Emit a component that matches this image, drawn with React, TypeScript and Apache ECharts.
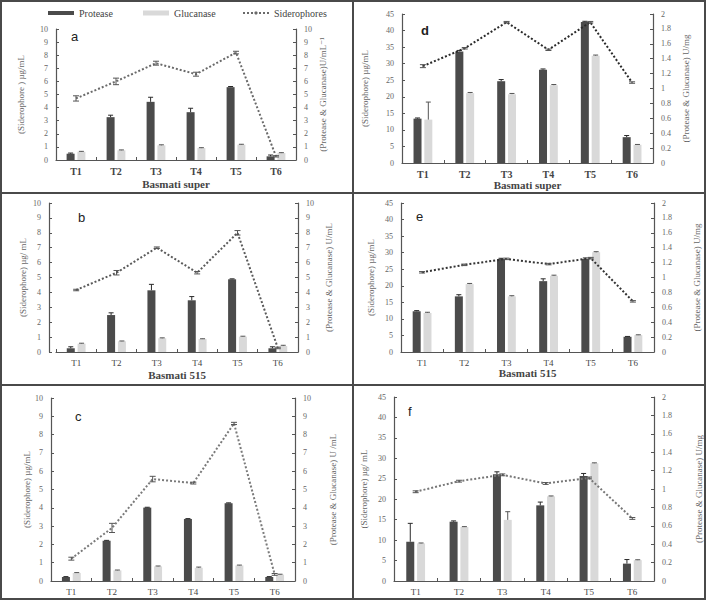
import React, { useEffect, useRef } from 'react';
import * as echarts from 'echarts';

const categories = ['T1', 'T2', 'T3', 'T4', 'T5', 'T6'];

// Panel a (Basmati super, U/mL)
const aProtease = [0.48, 3.27, 4.44, 3.65, 5.56, 0.28];
const aProteaseErr = [0.05, 0.15, 0.35, 0.3, 0.05, 0.1];
const aGlucanase = [0.63, 0.74, 1.12, 0.91, 1.17, 0.53];
const aGlucanaseErr = [0.03, 0.03, 0.04, 0.03, 0.03, 0.03];
const aSiderophores = [4.7, 6.0, 7.39, 6.55, 8.2, 0.28];
const aSiderophoresErr = [0.2, 0.25, 0.15, 0.15, 0.1, 0.05];

// Panel b (Basmati 515, U/mL)
const bProtease = [0.25, 2.48, 4.14, 3.47, 4.88, 0.25];
const bProteaseErr = [0.1, 0.15, 0.4, 0.25, 0.03, 0.1];
const bGlucanase = [0.56, 0.72, 0.92, 0.87, 1.03, 0.4];
const bGlucanaseErr = [0.03, 0.02, 0.03, 0.02, 0.03, 0.05];
const bSiderophores = [4.16, 5.32, 7.0, 5.32, 8.0, 0.27];
const bSiderophoresErr = [0.05, 0.15, 0.05, 0.08, 0.15, 0.05];

// Panel c (U/mL)
const cProtease = [0.22, 2.2, 4.01, 3.39, 4.25, 0.22];
const cProteaseErr = [0.02, 0.02, 0.02, 0.02, 0.02, 0.02];
const cGlucanase = [0.44, 0.58, 0.8, 0.72, 0.85, 0.35];
const cGlucanaseErr = [0.02, 0.02, 0.02, 0.04, 0.02, 0.02];
const cSiderophores = [1.22, 2.9, 5.57, 5.35, 8.61, 0.36];
const cSiderophoresErr = [0.08, 0.25, 0.15, 0.05, 0.06, 0.05];

// Panel d (Basmati super, U/mg)
const dProtease = [13.4, 33.7, 24.7, 28.2, 42.6, 7.8];
const dProteaseErr = [0.2, 0.3, 0.5, 0.2, 0.2, 0.5];
const dGlucanase = [13.1, 21.1, 20.8, 23.5, 32.4, 5.5];
const dGlucanaseErr = [5.3, 0.2, 0.2, 0.2, 0.2, 0.1];
const dSiderophores = [1.3, 1.54, 1.89, 1.52, 1.89, 1.08];
const dSiderophoresErr = [0.02, 0.01, 0.01, 0.01, 0.01, 0.01];

// Panel e (Basmati 515, U/mg)
const eProtease = [12.3, 16.8, 28.1, 21.4, 28.1, 4.6];
const eProteaseErr = [0.2, 0.5, 0.2, 0.7, 0.3, 0.1];
const eGlucanase = [11.8, 20.5, 16.8, 23.0, 30.1, 5.1];
const eGlucanaseErr = [0.2, 0.2, 0.2, 0.2, 0.2, 0.1];
const eSiderophores = [1.07, 1.17, 1.25, 1.18, 1.26, 0.68];
const eSiderophoresErr = [0.01, 0.01, 0.01, 0.01, 0.01, 0.01];

// Panel f (U/mg)
const fProtease = [9.6, 14.5, 26.1, 18.5, 25.7, 4.25];
const fProteaseErr = [4.5, 0.2, 0.6, 0.8, 0.6, 1.0];
const fGlucanase = [9.2, 13.2, 14.95, 20.7, 28.8, 5.1];
const fGlucanaseErr = [0.1, 0.1, 2.0, 0.1, 0.1, 0.1];
const fSiderophores = [0.97, 1.085, 1.154, 1.06, 1.12, 0.68];
const fSiderophoresErr = [0.01, 0.01, 0.01, 0.01, 0.01, 0.01];

const SERIF = '"Liberation Serif", "DejaVu Serif", serif';
const PROTEASE_COLOR = '#4b4b4b';
const GLUCANASE_COLOR = '#d9d9d9';

const panels = [
  {
    letter: 'a', letterPos: [71, 30], grid: { left: 56, top: 29, width: 240, height: 131 },
    leftMax: 10, leftInt: 1, rightMax: 10, rightInt: 1, lineRight: false, leftOffset: 0,
    protease: aProtease, proteaseErr: aProteaseErr, glucanase: aGlucanase, glucanaseErr: aGlucanaseErr,
    sid: aSiderophores, sidErr: aSiderophoresErr,
    leftName: '(Siderophore ) µg/mL', rightName: '(Protease & Glucanase)U/mL⁻¹', leftGap: 31, rightGap: 22,
    xName: 'Basmati super', xGap: 18, catBold: true, catSize: 10, lineColor: '#6a6a6a',
  },
  {
    letter: 'b', letterPos: [78, 211], grid: { left: 56, top: 203, width: 242, height: 149 },
    leftMax: 10, leftInt: 1, rightMax: 10, rightInt: 1, lineRight: false, leftOffset: 7,
    protease: bProtease, proteaseErr: bProteaseErr, glucanase: bGlucanase, glucanaseErr: bGlucanaseErr,
    sid: bSiderophores, sidErr: bSiderophoresErr,
    leftName: '(Siderophore) µg/ mL', rightName: '(Protease & Glucanase) U/mL', leftGap: 22, rightGap: 26,
    xName: 'Basmati 515', xGap: 17, catBold: false, catSize: 9, lineColor: '#5a5a5a',
  },
  {
    letter: 'c', letterPos: [75, 410], grid: { left: 51, top: 398, width: 244, height: 183 },
    leftMax: 10, leftInt: 1, rightMax: 10, rightInt: 1, lineRight: false, leftOffset: 0,
    protease: cProtease, proteaseErr: cProteaseErr, glucanase: cGlucanase, glucanaseErr: cGlucanaseErr,
    sid: cSiderophores, sidErr: cSiderophoresErr,
    leftName: '(Siderophore) µg/mL', rightName: '(Protease & Glucanase) U /mL', leftGap: 18, rightGap: 33,
    xName: '', xGap: 22, catBold: false, catSize: 9, lineColor: '#7a7a7a',
  },
  {
    letter: 'd', letterPos: [421, 24], grid: { left: 402, top: 14, width: 251, height: 149 },
    leftMax: 45, leftInt: 5, rightMax: 2, rightInt: 0.2, lineRight: true, leftOffset: 0,
    protease: dProtease, proteaseErr: dProteaseErr, glucanase: dGlucanase, glucanaseErr: dGlucanaseErr,
    sid: dSiderophores, sidErr: dSiderophoresErr,
    leftName: '(Siderophore) µg/mL', rightName: '(Protease & Glucanase) U/mg', leftGap: 33, rightGap: 28,
    xName: 'Basmati super', xGap: 16, catBold: true, catSize: 10, lineColor: '#2a2a2a',
  },
  {
    letter: 'e', letterPos: [416, 210], grid: { left: 401, top: 203, width: 253, height: 149 },
    leftMax: 45, leftInt: 5, rightMax: 2, rightInt: 0.2, lineRight: true, leftOffset: 0,
    protease: eProtease, proteaseErr: eProteaseErr, glucanase: eGlucanase, glucanaseErr: eGlucanaseErr,
    sid: eSiderophores, sidErr: eSiderophoresErr,
    leftName: '(Siderophore) µg/mL', rightName: '(Protease & Glucanase) U/mg', leftGap: 26, rightGap: 38,
    xName: 'Basmati 515', xGap: 15, catBold: false, catSize: 9, lineColor: '#333333',
  },
  {
    letter: 'f', letterPos: [408, 405], grid: { left: 394, top: 397, width: 260, height: 184 },
    leftMax: 45, leftInt: 5, rightMax: 2, rightInt: 0.2, lineRight: true, leftOffset: 0,
    protease: fProtease, proteaseErr: fProteaseErr, glucanase: fGlucanase, glucanaseErr: fGlucanaseErr,
    sid: fSiderophores, sidErr: fSiderophoresErr,
    leftName: '(Siderophore) µg/ mL', rightName: '(Protease & Glucanase) U/mg', leftGap: 26, rightGap: 40,
    xName: '', xGap: 20, catBold: false, catSize: 9, lineColor: '#777777',
  },
];

function errRender(offset: number, capHalf: number, both: boolean, color: string) {
  return (params: any, api: any) => {
    const i = api.value(0);
    const v = api.value(1);
    const e = api.value(2);
    const p = api.coord([i, v]);
    const hi = api.coord([i, v + e]);
    const lo = api.coord([i, v - e]);
    const x = p[0] + offset;
    const style = { stroke: color, lineWidth: 1 };
    const children: any[] = [
      { type: 'line', shape: { x1: x, y1: hi[1], x2: x, y2: both ? lo[1] : p[1] }, style },
      { type: 'line', shape: { x1: x - capHalf, y1: hi[1], x2: x + capHalf, y2: hi[1] }, style },
    ];
    if (both) {
      children.push({ type: 'line', shape: { x1: x - capHalf, y1: lo[1], x2: x + capHalf, y2: lo[1] }, style });
    }
    return { type: 'group', children };
  };
}

function buildOption() {
  const grids: any[] = [];
  const xAxes: any[] = [];
  const yAxes: any[] = [];
  const series: any[] = [];
  const graphics: any[] = [];

  panels.forEach((p, gi) => {
    grids.push({ ...p.grid, containLabel: false });
    xAxes.push({
      type: 'category', gridIndex: gi, data: categories,
      name: p.xName, nameLocation: 'middle', nameGap: p.xGap,
      nameTextStyle: { fontFamily: SERIF, fontSize: 11, fontWeight: 'bold', color: '#444' },
      axisLine: { lineStyle: { color: '#555', width: 1.2 } },
      axisTick: { show: true, inside: true, length: 3, lineStyle: { color: '#555' } },
      axisLabel: { fontFamily: SERIF, fontSize: p.catSize, fontWeight: p.catBold ? 'bold' : 'normal', color: '#444', margin: 6 },
      splitLine: { show: false },
    });
    const baseY = (max: number, interval: number, position: string, name: string, gap: number, offset: number) => ({
      type: 'value', gridIndex: gi, min: 0, max, interval, position, offset,
      name, nameLocation: 'middle', nameGap: gap, nameRotate: 90,
      nameTextStyle: { fontFamily: SERIF, fontSize: 9, color: '#666' },
      axisLine: { show: true, lineStyle: { color: '#555', width: 1.2 } },
      axisTick: { show: true, inside: true, length: 3, lineStyle: { color: '#555' } },
      axisLabel: { fontFamily: SERIF, fontSize: 8, color: '#666', margin: 8 },
      splitLine: { show: false },
    });
    const leftIdx = yAxes.length;
    yAxes.push(baseY(p.leftMax, p.leftInt, 'left', p.leftName, p.leftGap, p.leftOffset));
    const rightIdx = yAxes.length;
    yAxes.push(baseY(p.rightMax, p.rightInt, 'right', p.rightName, p.rightGap, 0));
    const lineIdx = p.lineRight ? rightIdx : leftIdx;

    series.push({
      type: 'bar', name: 'Protease', xAxisIndex: gi, yAxisIndex: leftIdx,
      data: p.protease, barWidth: 8, barGap: '35%',
      itemStyle: { color: PROTEASE_COLOR },
    });
    series.push({
      type: 'bar', name: 'Glucanase', xAxisIndex: gi, yAxisIndex: leftIdx,
      data: p.glucanase, barWidth: 8, barGap: '35%',
      itemStyle: { color: GLUCANASE_COLOR },
    });
    series.push({
      type: 'line', name: 'Siderophores', xAxisIndex: gi, yAxisIndex: lineIdx,
      data: p.sid, symbol: 'none', showSymbol: false,
      lineStyle: { color: p.lineColor, width: 2, type: 'dotted' },
      itemStyle: { color: p.lineColor },
    });
    series.push({
      type: 'custom', xAxisIndex: gi, yAxisIndex: leftIdx,
      renderItem: errRender(-5.4, 2.5, false, '#2a2a2a'),
      data: p.protease.map((v, i) => [i, v, p.proteaseErr[i]]), z: 3,
    });
    series.push({
      type: 'custom', xAxisIndex: gi, yAxisIndex: leftIdx,
      renderItem: errRender(5.4, 2.5, false, '#555'),
      data: p.glucanase.map((v, i) => [i, v, p.glucanaseErr[i]]), z: 3,
    });
    series.push({
      type: 'custom', xAxisIndex: gi, yAxisIndex: lineIdx,
      renderItem: errRender(0, 3, true, '#555'),
      data: p.sid.map((v, i) => [i, v, p.sidErr[i]]), z: 4,
    });

    graphics.push({
      type: 'text', x: p.letterPos[0], y: p.letterPos[1], z: 10,
      style: { text: p.letter, fontFamily: '"Liberation Sans", Arial, sans-serif', fontSize: 13, fontWeight: p.letter === 'd' ? 'bold' : 'normal', fill: '#222' },
    });
  });

  const borderStyle = { stroke: '#4a4a4a', lineWidth: 2 };
  graphics.push(
    { type: 'rect', shape: { x: 1, y: 1, width: 704, height: 598 }, style: { fill: 'none', stroke: '#4a4a4a', lineWidth: 2 }, z: 20 },
    { type: 'line', shape: { x1: 0, y1: 193, x2: 706, y2: 193 }, style: borderStyle, z: 20 },
    { type: 'line', shape: { x1: 0, y1: 385, x2: 706, y2: 385 }, style: borderStyle, z: 20 },
    { type: 'line', shape: { x1: 353, y1: 0, x2: 353, y2: 600 }, style: borderStyle, z: 20 },
  );

  const legendBase = {
    top: 8, itemWidth: 26, itemHeight: 4, itemGap: 0, padding: 0,
    textStyle: { fontFamily: SERIF, fontSize: 10, color: '#444' },
    selectedMode: false,
  };

  return {
    animation: false,
    backgroundColor: '#ffffff',
    legend: [
      { ...legendBase, left: 48, data: [{ name: 'Protease', icon: 'rect' }] },
      { ...legendBase, left: 143, itemHeight: 5, data: [{ name: 'Glucanase', icon: 'rect' }] },
      { ...legendBase, left: 242, data: [{ name: 'Siderophores' }] },
    ],
    grid: grids,
    xAxis: xAxes,
    yAxis: yAxes,
    series,
    graphic: graphics,
  };
}

export default function App() {
  const ref = useRef<HTMLDivElement>(null);
  useEffect(() => {
    const chart = echarts.init(ref.current!, null, { renderer: 'svg' });
    chart.setOption(buildOption() as any);
    return () => chart.dispose();
  }, []);
  return (
    <div
      ref={ref}
      style={{ position: 'absolute', left: 0, top: 0, width: 706, height: 602, background: '#fff' }}
    />
  );
}
